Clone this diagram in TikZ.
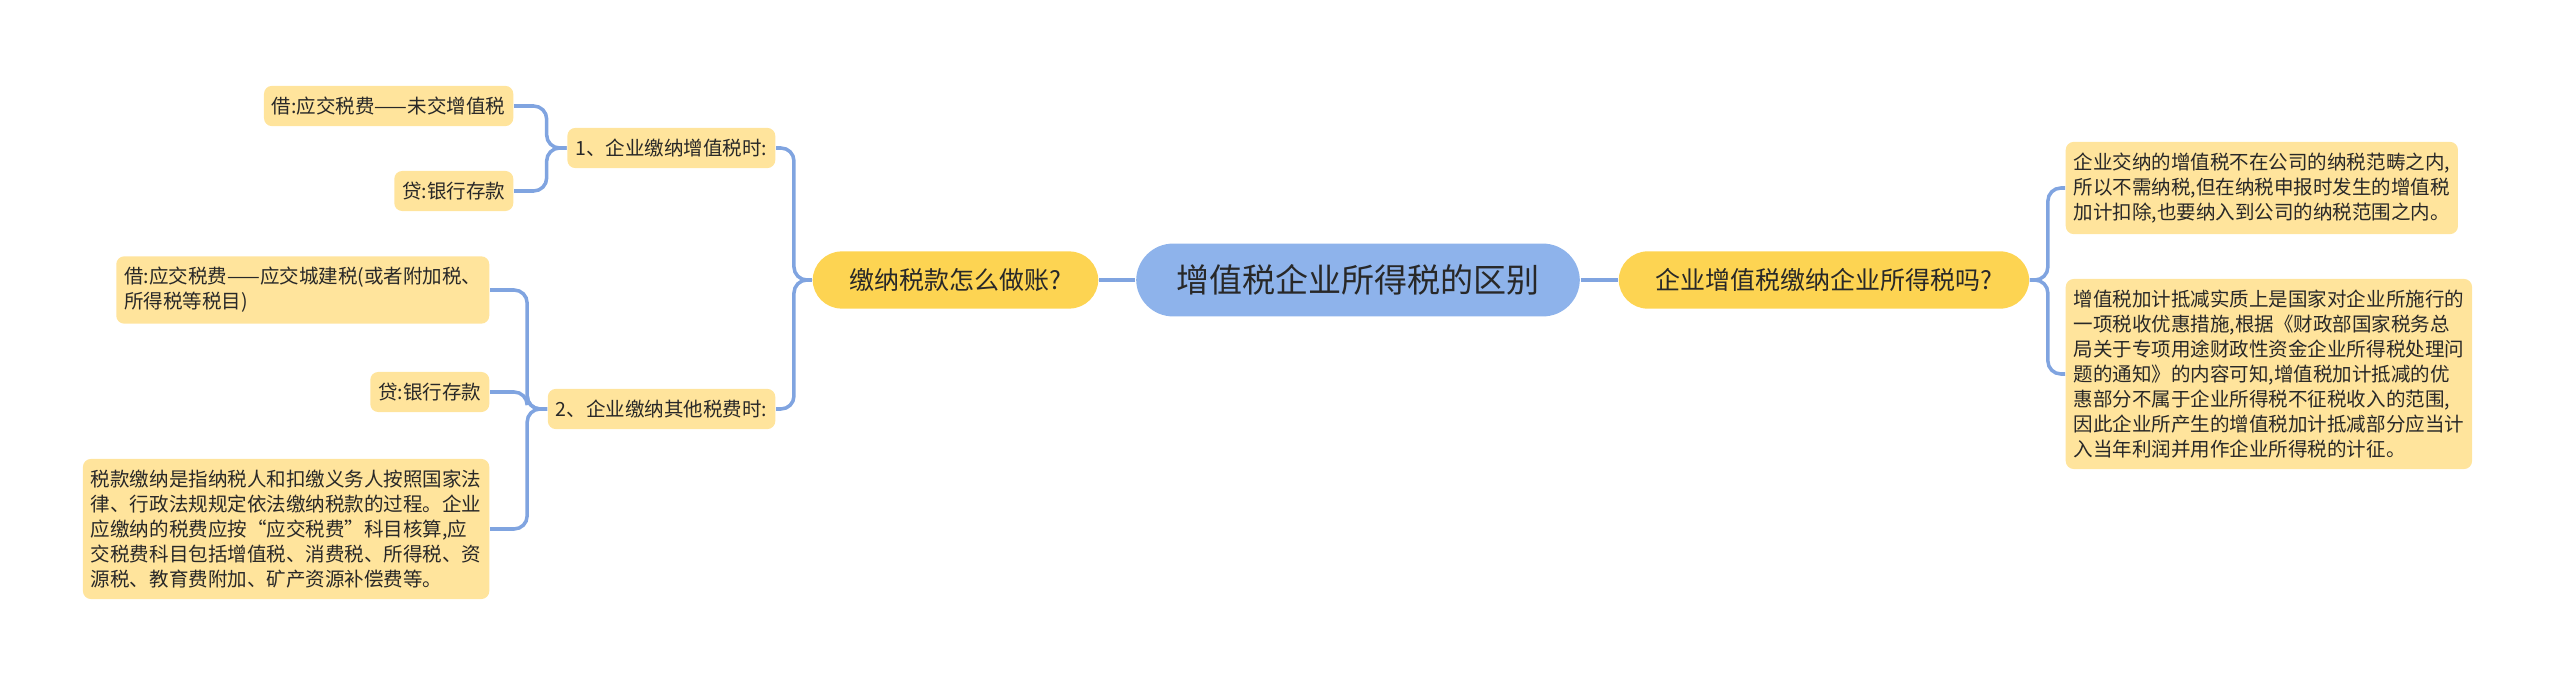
\documentclass[tikz,border=0pt]{standalone}
\usepackage{fontspec}
\setmainfont{Noto Sans CJK SC}
\definecolor{linkblue}{RGB}{128,164,224}
\definecolor{rootblue}{RGB}{142,179,235}
\definecolor{topicgold}{RGB}{253,212,82}
\definecolor{leafyellow}{RGB}{255,228,156}
\definecolor{inkgrey}{RGB}{40,40,40}

\begin{document}
\begin{tikzpicture}[x=0.01cm,y=-0.01cm,
  link/.style={draw=linkblue,line width=1pt,rounded corners=0.13cm},
  rootbox/.style={fill=rootblue,text=inkgrey,rounded corners=0.37cm,
    inner xsep=0.40cm,inner ysep=0.21cm,font=\fontsize{9.4pt}{11pt}\selectfont},
  topicbox/.style={fill=topicgold,text=inkgrey,rounded corners=0.29cm,
    inner xsep=0.37cm,inner ysep=0.17cm,font=\fontsize{7.1pt}{8.5pt}\selectfont},
  leafbox/.style={fill=leafyellow,text=inkgrey,rounded corners=0.08cm,align=left,
    inner xsep=0.08cm,inner ysep=0.11cm,font=\fontsize{5.55pt}{7.1pt}\selectfont}]
\useasboundingbox (0,0) rectangle (2560,685);

  \node[rootbox] (root) at (1358,280) {增值税企业所得税的区别};
  \node[topicbox,anchor=east] (pay) at (1099,280) {缴纳税款怎么做账?};
  \node[topicbox,anchor=west] (ask) at (1618,280) {企业增值税缴纳企业所得税吗?};

  % left side
  \node[leafbox,anchor=east] (vat) at (776,148) {1、企业缴纳增值税时:};
  \node[leafbox,anchor=east] (other) at (776,409) {2、企业缴纳其他税费时:};

  \node[leafbox,anchor=east] (dr1) at (514,106) {借:应交税费——未交增值税};
  \node[leafbox,anchor=east] (cr1) at (514,191) {贷:银行存款};

  \node[leafbox,anchor=east] (dr2) at (490,290) {借:应交税费——应交城建税(或者附加税、\\所得税等税目)};
  \node[leafbox,anchor=east] (cr2) at (490,392) {贷:银行存款};
  \node[leafbox,anchor=east] (note) at (490,529) {税款缴纳是指纳税人和扣缴义务人按照国家法\\律、行政法规规定依法缴纳税款的过程。企业\\应缴纳的税费应按“应交税费”科目核算,应\\交税费科目包括增值税、消费税、所得税、资\\源税、教育费附加、矿产资源补偿费等。};

  % right side
  \node[leafbox,anchor=west] (ans1) at (2065,188) {企业交纳的增值税不在公司的纳税范畴之内,\\所以不需纳税,但在纳税申报时发生的增值税\\加计扣除,也要纳入到公司的纳税范围之内。};
  \node[leafbox,anchor=west] (ans2) at (2065,374) {增值税加计抵减实质上是国家对企业所施行的\\一项税收优惠措施,根据《财政部国家税务总\\局关于专项用途财政性资金企业所得税处理问\\题的通知》的内容可知,增值税加计抵减的优\\惠部分不属于企业所得税不征税收入的范围,\\因此企业所产生的增值税加计抵减部分应当计\\入当年利润并用作企业所得税的计征。};

  \draw[link] (root.west) -- (pay.east);
  \draw[link] (root.east) -- (ask.west);

  \draw[link] (pay.west) -- ++(-18,0) |- (vat.east);
  \draw[link] (pay.west) -- ++(-18,0) |- (other.east);

  \draw[link] (vat.west) -- ++(-20,0) |- (dr1.east);
  \draw[link] (vat.west) -- ++(-20,0) |- (cr1.east);

  \draw[link] (other.west) -- ++(-20,0) |- (dr2.east);
  \draw[link] (other.west) -- ++(-20,0) |- (cr2.east);
  \draw[link] (other.west) -- ++(-20,0) |- (note.east);

  \draw[link] (ask.east) -- ++(18,0) |- (ans1.west);
  \draw[link] (ask.east) -- ++(18,0) |- (ans2.west);

\end{tikzpicture}
\end{document}
